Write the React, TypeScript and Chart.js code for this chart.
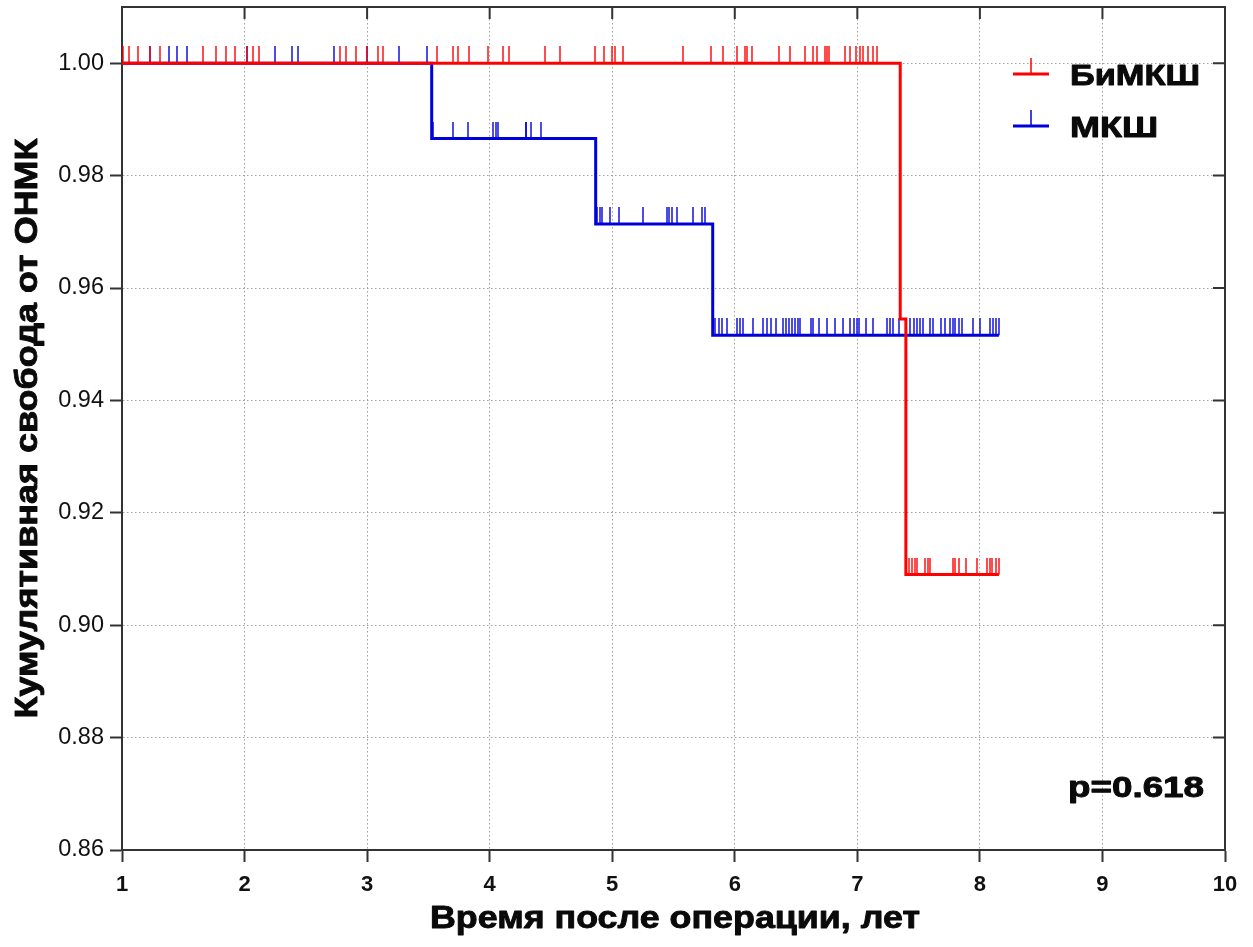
import { useEffect, useRef } from "react";
import { Chart, registerables } from "chart.js";

Chart.register(...registerables);

// ---- data ----
const xTicks = [1, 2, 3, 4, 5, 6, 7, 8, 9, 10];
const yTicks = [0.86, 0.88, 0.9, 0.92, 0.94, 0.96, 0.98, 1.0];

const seriesNames = ["БиМКШ", "МКШ"];
const pValueLabel = "p=0.618";
const xTitle = "Время после операции, лет";
const yTitle = "Кумулятивная свобода от ОНМК";

// Kaplan–Meier steps: time of event and survival after it
const redStepTimes = [1, 7.35, 7.396, 8.155];
const redStepValues = [1.0, 0.9545, 0.909, 0.909];
const blueStepTimes = [1, 3.527, 4.865, 5.82, 8.155];
const blueStepValues = [1.0, 0.9866, 0.9714, 0.9516, 0.9516];

// censored observations (times)
const redCensored = [
  1.007, 1.056, 1.13, 1.23, 1.31, 1.665, 1.77, 1.845, 1.92, 2.02, 2.07, 2.12,
  2.78, 2.83, 2.91, 3.0, 3.09, 3.13, 3.57, 3.7, 3.74, 3.83, 3.99, 4.105, 4.155,
  4.45, 4.57, 4.86, 4.93, 5.0, 5.02, 5.085, 5.575, 5.805, 5.9, 6.02, 6.08, 6.1,
  6.14, 6.36, 6.45, 6.57, 6.64, 6.67, 6.74, 6.755, 6.765, 6.9, 6.94, 6.99, 7.02,
  7.045, 7.09, 7.13, 7.16,
  7.42, 7.445, 7.47, 7.485, 7.55, 7.575, 7.59, 7.78, 7.8, 7.83, 7.89, 7.98,
  8.06, 8.08, 8.1, 8.13, 8.155,
];
const blueCensored = [
  1.23, 1.38, 1.445, 1.53, 2.02, 2.25, 2.39, 2.44, 2.73, 3.0, 3.26, 3.49,
  3.535, 3.7, 3.826, 4.03, 4.05, 4.07, 4.294, 4.3, 4.34, 4.42,
  4.875, 4.9, 4.92, 4.98, 5.055, 5.25, 5.445, 5.46, 5.485, 5.53, 5.66, 5.73, 5.76,
  5.84, 5.87, 5.895, 5.935, 6.015, 6.04, 6.065, 6.145, 6.23, 6.26, 6.295, 6.335,
  6.39, 6.415, 6.44, 6.465, 6.49, 6.515, 6.53, 6.62, 6.64, 6.685, 6.75, 6.82,
  6.88, 6.94, 6.97, 7.0, 7.01, 7.07, 7.13, 7.24, 7.265, 7.29, 7.34, 7.43, 7.465,
  7.485, 7.51, 7.535, 7.59, 7.615, 7.68, 7.715, 7.755, 7.78, 7.8, 7.83, 7.85,
  7.94, 8.0, 8.08, 8.11, 8.135, 8.16,
];

const RED = "#ff0000";
const BLUE = "#0000dd";
const FONT = "'Liberation Sans', Arial, sans-serif";

function levelAt(times: number[], values: number[], t: number) {
  let v = values[0];
  for (let i = 0; i < times.length; i++) if (times[i] <= t) v = values[i];
  return v;
}

function tickImage(color: string) {
  const c = document.createElement("canvas");
  c.width = 2;
  c.height = 34;
  const g = c.getContext("2d")!;
  g.globalAlpha = 0.7;
  g.fillStyle = color;
  g.fillRect(0, 0, 2, 17);
  return c;
}

// draw heavy bold text with a given cap height, stretched to a given width
function drawFitted(
  ctx: CanvasRenderingContext2D,
  text: string,
  x: number,
  baseline: number,
  cap: number,
  width: number,
  align: "left" | "center",
  rotated = false
) {
  const px = cap / 0.716;
  ctx.save();
  ctx.font = `bold ${px}px ${FONT}`;
  ctx.textBaseline = "alphabetic";
  ctx.textAlign = align;
  const w = ctx.measureText(text).width;
  const sx = width / w;
  if (rotated) {
    ctx.translate(baseline, x);
    ctx.rotate(-Math.PI / 2);
  } else {
    ctx.translate(x, baseline);
  }
  ctx.scale(sx, 1);
  ctx.fillStyle = "#0a0a0a";
  ctx.strokeStyle = "#0a0a0a";
  ctx.lineWidth = 0.9;
  ctx.lineJoin = "round";
  ctx.fillText(text, 0, 0);
  ctx.strokeText(text, 0, 0);
  ctx.restore();
}

const framePlugin = {
  id: "frameAndText",
  afterDraw(chart: any) {
    const { ctx, chartArea } = chart;
    const { left, right, top, bottom } = chartArea;
    const xs = chart.scales.x;
    const ys = chart.scales.y;
    ctx.save();
    ctx.strokeStyle = "#333";
    ctx.lineWidth = 2;
    ctx.beginPath();
    ctx.moveTo(left, top);
    ctx.lineTo(right, top);
    ctx.lineTo(right, bottom);
    ctx.stroke();
    // inward mirrored ticks
    ctx.beginPath();
    xTicks.forEach((v) => {
      const px = xs.getPixelForValue(v);
      ctx.moveTo(px, top);
      ctx.lineTo(px, top + 12);
    });
    yTicks.forEach((v) => {
      const py = ys.getPixelForValue(v);
      ctx.moveTo(right - 12, py);
      ctx.lineTo(right, py);
    });
    ctx.stroke();

    // axis titles
    drawFitted(ctx, yTitle, (top + bottom) / 2, 36.5, 22.5, 580, "center", true);
    drawFitted(ctx, xTitle, 675, 928, 22.5, 490, "center");

    // legend
    const items = [
      { name: seriesNames[0], color: RED, y: 74, w: 130 },
      { name: seriesNames[1], color: BLUE, y: 126, w: 88 },
    ];
    items.forEach((it) => {
      ctx.strokeStyle = it.color;
      ctx.lineWidth = 3;
      ctx.beginPath();
      ctx.moveTo(1013, it.y);
      ctx.lineTo(1049, it.y);
      ctx.stroke();
      ctx.lineWidth = 1.5;
      ctx.beginPath();
      ctx.moveTo(1031, it.y);
      ctx.lineTo(1031, it.y - 16);
      ctx.stroke();
      drawFitted(ctx, it.name, 1070, it.y + 11, 20.5, it.w, "left");
    });

    // p-value
    drawFitted(ctx, pValueLabel, 1068, 797, 20.5, 136, "left");
    ctx.restore();
  },
};

export default function App() {
  const ref = useRef<HTMLCanvasElement | null>(null);
  useEffect(() => {
    if (!ref.current) return;
    const redTick = tickImage(RED);
    const blueTick = tickImage(BLUE);
    const redLine = redStepTimes.map((t, i) => ({ x: t, y: redStepValues[i] }));
    const blueLine = blueStepTimes.map((t, i) => ({ x: t, y: blueStepValues[i] }));
    const redCens = redCensored.map((t) => ({ x: t, y: levelAt(redStepTimes, redStepValues, t) }));
    const blueCens = blueCensored.map((t) => ({ x: t, y: levelAt(blueStepTimes, blueStepValues, t) }));

    const grid = {
      color: "#a0a0a0",
      lineWidth: 1,
      tickColor: "#333",
      tickLength: 12,
      tickWidth: 2,
      tickBorderDash: [],
    };
    const border = { display: true, color: "#333", width: 2, dash: [1.5, 2.5] };

    const chart = new Chart(ref.current, {
      type: "line",
      data: {
        datasets: [
          {
            label: seriesNames[0],
            data: redLine,
            borderColor: RED,
            borderWidth: 3,
            stepped: "before",
            pointRadius: 0,
            fill: false,
            order: 0,
          } as any,
          {
            label: seriesNames[1],
            data: blueLine,
            borderColor: BLUE,
            borderWidth: 3,
            stepped: "before",
            pointRadius: 0,
            fill: false,
            order: 1,
          },
          {
            label: seriesNames[0] + " censored",
            data: redCens,
            showLine: false,
            pointStyle: redTick,
            pointRadius: 3,
            pointHoverRadius: 3,
            order: 2,
          },
          {
            label: seriesNames[1] + " censored",
            data: blueCens,
            showLine: false,
            pointStyle: blueTick,
            pointRadius: 3,
            pointHoverRadius: 3,
            order: 3,
          },
        ],
      },
      options: {
        animation: false,
        responsive: true,
        maintainAspectRatio: false,
        events: [],
        layout: { padding: { left: 0, top: 7, right: 28, bottom: 0 } },
        plugins: { legend: { display: false }, tooltip: { enabled: false } },
        scales: {
          x: {
            type: "linear",
            min: 1,
            max: 10,
            afterBuildTicks: (s: any) => {
              s.ticks = xTicks.map((v) => ({ value: v }));
            },
            afterFit: (s: any) => {
              s.height = 97;
              s.paddingLeft = 0;
              s.paddingRight = 0;
            },
            grid: grid as any,
            border: border as any,
            ticks: {
              color: "#111",
              padding: 10,
              font: { family: FONT, size: 22, weight: "bold" },
              callback: (v: any) => String(v),
            },
          },
          y: {
            type: "linear",
            min: 0.86,
            max: 1.01,
            afterBuildTicks: (s: any) => {
              s.ticks = yTicks.map((v) => ({ value: v }));
            },
            afterFit: (s: any) => {
              s.width = 122;
              s.paddingTop = 0;
              s.paddingBottom = 0;
            },
            grid: grid as any,
            border: border as any,
            ticks: {
              color: "#111",
              padding: 6,
              font: { family: FONT, size: 23.5 },
              callback: (v: any) => Number(v).toFixed(2),
            },
          },
        },
      },
      plugins: [framePlugin],
    });
    return () => chart.destroy();
  }, []);

  return (
    <div style={{ position: "fixed", left: 0, top: 0, width: 1253, height: 947, background: "#fff" }}>
      <canvas ref={ref} />
    </div>
  );
}
